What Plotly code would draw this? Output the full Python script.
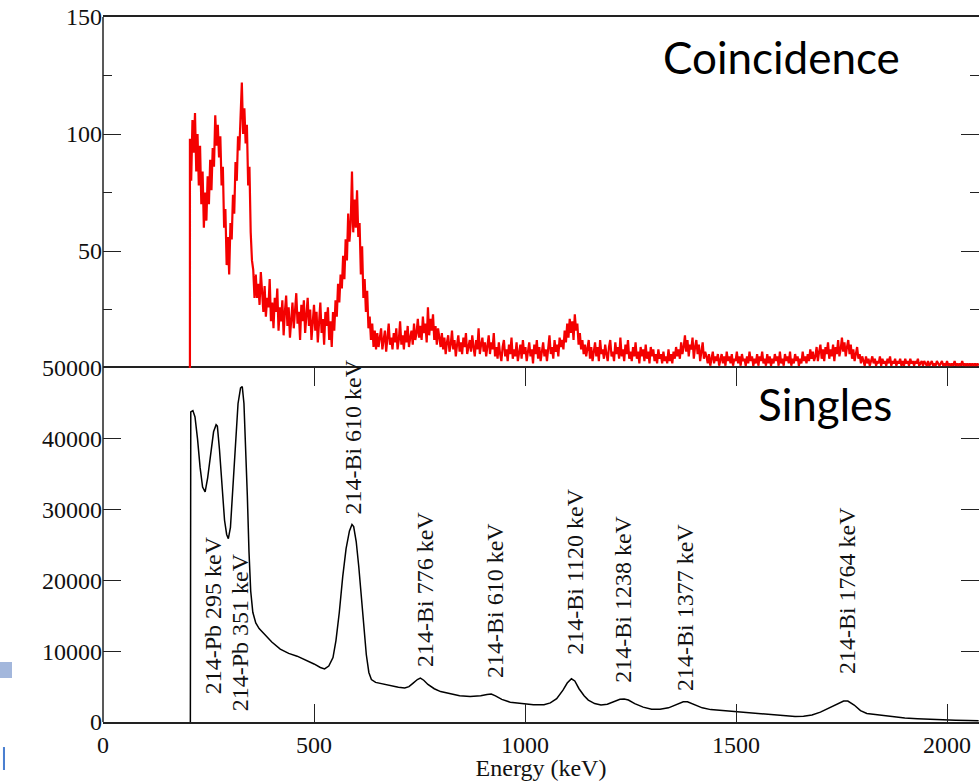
import plotly.graph_objects as go

# ---------------- data ----------------
# Coincidence spectrum: counts per channel, channels every 3 keV starting at 206 keV
coinc_start_keV = 206
coinc_step_keV = 3
coinc_counts = [
    # 206 - 359
    98, 80, 106, 92, 109, 84, 100, 78, 95, 70, 84, 60, 75, 63, 82, 70, 89, 76, 94, 86,
    108, 95, 104, 90, 99, 78, 86, 60, 68, 44, 56, 40, 62, 55, 74, 66, 88, 80, 99, 93,
    112, 122, 100, 111, 96, 104, 78, 86, 58, 46, 42, 30,
    # 362 - 551
    40, 30, 36, 27, 41, 32, 24, 35, 22, 30, 26, 38, 20, 28, 17, 30, 24, 34, 16, 26,
    20, 29, 14, 24, 31, 18, 26, 13, 22, 28, 17, 25, 32, 19, 24, 12, 27, 20, 29, 15,
    23, 30, 18, 25, 12, 21, 27, 16, 24, 11, 22, 28, 15, 21, 10, 24, 18, 26, 12, 20,
    9, 24, 16, 29,
    # 554 - 647
    22, 36, 28, 40, 34, 48, 38, 55, 46, 66, 54, 62, 84, 58, 72, 60, 76, 56, 62, 40,
    52, 30, 38, 24, 33, 17, 22, 12, 19, 9, 16, 8,
    # 650 - 749
    15, 9, 13, 17, 8, 12, 16, 7, 14, 19, 10, 13, 8, 15, 11, 17, 8, 12, 20, 10,
    14, 8, 16, 11, 18, 9, 13, 16, 10, 19, 12, 15, 21, 13,
    # 752 - 803
    18, 12, 22, 15, 19, 11, 26, 14, 21, 16, 23, 12, 18, 10, 17, 13, 9, 15,
    # 806 - 929
    8, 13, 6, 11, 14, 7, 10, 16, 8, 12, 5, 10, 14, 7, 11, 6, 13, 9, 15, 6,
    10, 12, 7, 14, 9, 5, 12, 8, 17, 6, 10, 13, 7, 11, 5, 9, 14, 6, 11, 8,
    15, 5,
    # 932 - 1085
    9, 4, 11, 6, 3, 9, 12, 5, 8, 3, 10, 6, 13, 4, 8, 5, 11, 3, 7, 10,
    4, 12, 6, 9, 3, 7, 11, 5, 8, 2, 10, 6, 12, 4, 9, 3, 7, 11, 5, 8,
    3, 10, 14, 6, 9, 4, 12, 7, 10, 5, 13, 9,
    # 1088 - 1139
    12, 8, 16, 11, 19, 13, 21, 15, 20, 12, 23, 16, 19, 10, 15, 8, 12, 6,
    # 1142 - 1361
    10, 5, 8, 12, 4, 9, 3, 7, 11, 5, 9, 3, 12, 6, 8, 4, 10, 6, 3, 9,
    12, 5, 7, 3, 11, 6, 9, 4, 13, 5, 8, 3, 10, 6, 12, 4, 7, 3, 9, 5,
    11, 4, 7, 2, 9, 5, 8, 3, 10, 4, 7, 2, 9, 5, 8, 3, 6, 2, 8, 4,
    6, 2, 7, 3, 5, 2, 8, 3, 6, 2, 7, 4, 9, 5,
    # 1364 - 1427
    8, 4, 11, 6, 9, 14, 7, 12, 5, 10, 8, 13, 4, 9, 12, 6, 10, 3, 8, 11, 4, 7,
    # 1430 - 1685
    5, 2, 6, 1, 4, 7, 2, 5, 3, 6, 1, 4, 6, 2, 5, 1, 7, 3, 5, 2,
    6, 1, 4, 3, 7, 2, 5, 1, 6, 3, 4, 1, 5, 2, 7, 3, 5, 1, 4, 2,
    6, 1, 5, 3, 7, 2, 4, 1, 6, 2, 5, 1, 4, 2, 6, 3, 5, 1, 7, 2,
    4, 1, 6, 3, 5, 2, 7, 1, 4, 2, 6, 3, 5, 1, 4, 2, 7, 3, 5, 2,
    6, 3, 8, 4, 7, 3,
    # 1688 - 1799
    5, 9, 3, 7, 10, 4, 8, 3, 9, 6, 11, 4, 8, 5, 10, 3, 9, 6, 12, 5,
    8, 13, 7, 11, 5, 9, 12, 6, 10, 4, 8, 3, 7, 9, 4, 6, 2, 5,
    # 1802 - 2075
    3, 1, 5, 2, 4, 1, 3, 5, 2, 4, 1, 3, 2, 5, 1, 4, 2, 3, 1, 4,
    2, 5, 1, 3, 2, 4, 1, 3, 2, 4, 1, 3, 1, 4, 2, 3, 1, 4, 2, 3,
    1, 3, 2, 4, 1, 2, 3, 1, 3, 2, 1, 3, 1, 2, 3, 1, 2, 1, 3, 2,
    1, 2, 3, 1, 2, 1, 3, 1, 2, 1, 2, 1, 3, 1, 2, 1, 2, 1, 3, 1,
    2, 1, 2, 1, 2, 1, 2, 1, 2, 1, 2, 1,
]

# Singles spectrum
singles_energy = [
    207, 208, 213, 218, 224, 230, 236, 242, 248, 255, 262, 268, 271, 276, 282, 288, 293, 297, 302, 308,
    314, 320, 326, 330, 334, 338, 342, 346, 350, 355, 362, 370, 385, 400, 420, 440, 460, 480, 500, 515,
    525, 535, 545, 552, 560, 568, 576, 584, 590, 594, 600, 606, 612, 618, 624, 630, 636, 646, 660, 680,
    700, 715, 725, 735, 745, 752, 760, 770, 785, 800, 820, 845, 870, 895, 910, 920, 930, 945, 965, 990,
    1020, 1045, 1060, 1075, 1090, 1100, 1110, 1118, 1128, 1140, 1150, 1165, 1180, 1195, 1210, 1225, 1235, 1245, 1260, 1280,
    1300, 1320, 1340, 1360, 1375, 1385, 1400, 1420, 1440, 1460, 1480, 1500, 1520, 1550, 1580, 1610, 1640, 1660, 1680, 1700,
    1720, 1740, 1755, 1765, 1780, 1795, 1810, 1830, 1850, 1870, 1900, 1930, 1960, 1990, 2020, 2050, 2075,
]
singles_counts = [
    0, 43800, 44000, 43100, 40000, 36000, 33200, 32500, 34500, 38000, 41000, 42000, 41800, 38500, 33000, 28500, 26500, 25900, 27500, 33000,
    40000, 45000, 47200, 47400, 45000, 39000, 32000, 24000, 18500, 15500, 14000, 13200, 12200, 11300, 10300, 9700, 9300, 8800, 8200, 7700,
    7500, 7900, 9100, 11500, 15500, 20500, 24500, 27000, 27900, 27600, 25500, 22000, 17500, 13000, 9500, 7000, 6000, 5600, 5400, 5200,
    4900, 4800, 5000, 5500, 6000, 6200, 5900, 5300, 4700, 4300, 4000, 3700, 3600, 3700, 3900, 3950, 3700, 3200, 2800, 2600,
    2450, 2450, 2700, 3300, 4500, 5500, 6100, 5800, 4700, 3700, 3100, 2600, 2400, 2500, 2800, 3200, 3250, 3100, 2600, 2100,
    1800, 1800, 2000, 2500, 2850, 2850, 2500, 2000, 1750, 1650, 1600, 1500, 1400, 1200, 1000, 850, 780, 800, 1000, 1400,
    2000, 2600, 2950, 2950, 2400, 1600, 1200, 1050, 900, 700, 550, 450, 350, 300, 250, 200, 180,
]

# Peak labels (bottom panel)
peak_labels = ["214-Pb 295 keV", "214-Pb 351 keV", "214-Bi 610 keV", "214-Bi 776 keV", "214-Bi 610 keV",
               "214-Bi 1120 keV", "214-Bi 1238 keV", "214-Bi 1377 keV", "214-Bi 1764 keV"]
peak_label_energy = [261, 325, 592, 763, 929, 1118, 1232, 1379, 1763]
peak_label_counts = [15100, 12700, 40300, 18800, 17100, 21200, 17400, 16250, 18500]

x_tick_vals = [0, 500, 1000, 1500, 2000]
x_tick_text = ["0", "500", "1000", "1500", "2000"]
top_tick_vals = [50, 100, 150]
top_tick_text = ["50", "100", "150"]
top_minor_vals = [25, 75, 125]
bottom_tick_vals = [0, 10000, 20000, 30000, 40000, 50000]
bottom_tick_text = ["0", "10000", "20000", "30000", "40000", "50000"]

# ---------------- figure ----------------
coinc_energy = [coinc_start_keV] + [coinc_start_keV + coinc_step_keV * i for i in range(len(coinc_counts))]
coinc_y = [0] + coinc_counts

SERIF = "Liberation Serif"
SANS = "Lato"
AXC = "#222222"
TXT = "#111111"

fig = go.Figure()
fig.add_trace(go.Scatter(x=coinc_energy, y=coinc_y, mode="lines",
                         line=dict(color="#f40000", width=2.2), xaxis="x2", yaxis="y2",
                         showlegend=False))
fig.add_trace(go.Scatter(x=singles_energy, y=singles_counts, mode="lines",
                         line=dict(color="#000000", width=1.5), xaxis="x", yaxis="y",
                         showlegend=False))

annotations = []
for t, e, c in zip(peak_labels, peak_label_energy, peak_label_counts):
    annotations.append(dict(text=t, x=e, y=c, xref="x", yref="y", showarrow=False,
                            textangle=-90, xanchor="center", yanchor="middle",
                            font=dict(family=SERIF, size=24, color=TXT)))
annotations.append(dict(text="Coincidence", x=1607, y=133, xref="x2", yref="y2", showarrow=False,
                        xanchor="center", yanchor="middle",
                        font=dict(family=SANS, size=44, color="#000000")))
annotations.append(dict(text="Singles", x=1712, y=44900, xref="x", yref="y", showarrow=False,
                        xanchor="center", yanchor="middle",
                        font=dict(family=SANS, size=44, color="#000000")))

tickfont = dict(family=SERIF, size=24, color=TXT)

fig.update_layout(
    width=979, height=781,
    margin=dict(l=103, r=0, t=17, b=59),
    paper_bgcolor="white", plot_bgcolor="white",
    annotations=annotations,
    xaxis=dict(domain=[0, 1], anchor="y", range=[0, 2075.8], tickvals=x_tick_vals, ticktext=x_tick_text,
               ticks="inside", ticklen=18, tickwidth=1.3, tickcolor=AXC,
               showline=True, linecolor=AXC, linewidth=1.5, mirror="ticks",
               showgrid=False, zeroline=False, tickfont=tickfont, ticklabelstandoff=0,
               title=dict(text="Energy (keV)", font=dict(family=SERIF, size=24, color=TXT), standoff=2)),
    yaxis=dict(domain=[0, 0.502], anchor="x", range=[0, 50000], tickvals=bottom_tick_vals, ticktext=bottom_tick_text,
               ticks="inside", ticklen=18, tickwidth=1.3, tickcolor=AXC,
               showline=False, mirror="ticks",
               showgrid=False, zeroline=False, tickfont=tickfont),
    xaxis2=dict(domain=[0, 1], anchor="y2", range=[0, 2075.8], matches="x", side="top",
                showticklabels=False, ticks="",
                showline=True, linecolor=AXC, linewidth=1.5, mirror=False,
                showgrid=False, zeroline=False),
    yaxis2=dict(domain=[0.502, 1], anchor="x2", range=[0, 150], tickvals=top_tick_vals, ticktext=top_tick_text,
                ticks="inside", ticklen=18, tickwidth=1.3, tickcolor=AXC,
                minor=dict(tickvals=top_minor_vals, ticks="inside", ticklen=9, tickwidth=1.3, tickcolor=AXC),
                showline=False, mirror="ticks",
                showgrid=False, zeroline=False, tickfont=tickfont),
    shapes=[
        # left frame line
        dict(type="line", xref="paper", yref="paper", x0=0, x1=0, y0=0, y1=1,
             line=dict(color=AXC, width=1.5)),
        # small blue marks at the left edge of the original slide
        dict(type="rect", xref="paper", yref="paper", x0=-0.1176, x1=-0.1039, y0=0.0624, y1=0.0851,
             fillcolor="#a3b7dc", line=dict(width=0)),
        dict(type="rect", xref="paper", yref="paper", x0=-0.1142, x1=-0.1119, y0=-0.0681, y1=-0.0355,
             fillcolor="#4a7fd0", line=dict(width=0)),
    ],
)

fig.write_html("out.html")
